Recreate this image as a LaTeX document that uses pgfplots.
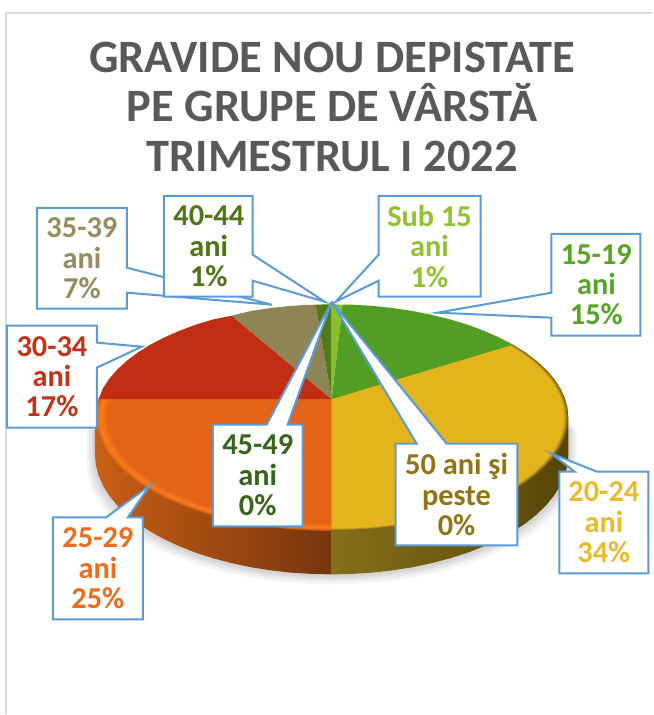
\documentclass[border=0pt]{standalone}
\usepackage{fontspec}
\setmainfont{Carlito}
\usepackage{pgfplots}
\usepackage{pgfplotstable}
\pgfplotsset{compat=1.18}
\definecolor{frame}{HTML}{D9D9D9}
\definecolor{callout}{HTML}{5B9BD5}
\definecolor{HTMLa}{HTML}{C22E14}
\definecolor{HTMLb}{HTML}{8E8456}
\definecolor{HTMLc}{HTML}{4F7C14}
\definecolor{HTMLd}{HTML}{8DBF2A}
\definecolor{HTMLe}{HTML}{529E24}
\definecolor{HTMLf}{HTML}{968C5E}
\definecolor{HTMLg}{HTML}{4F7518}
\definecolor{HTMLh}{HTML}{93C22D}
\definecolor{HTMLi}{HTML}{56A626}
\definecolor{HTMLj}{HTML}{C5321B}
\definecolor{HTMLk}{HTML}{37651C}
\definecolor{HTMLl}{HTML}{8F7514}
\definecolor{HTMLm}{HTML}{EB6D20}
\definecolor{HTMLn}{HTML}{EABB28}
\definecolor{HTMLo}{HTML}{C95F15}
\definecolor{HTMLp}{HTML}{75350D}
\definecolor{HTMLq}{HTML}{85701A}
\definecolor{HTMLr}{HTML}{554608}
\definecolor{HTMLa1}{HTML}{C05C14}
\definecolor{HTMLa2}{HTML}{D86416}
\definecolor{HTMLa3}{HTML}{EE7019}
\definecolor{HTMLa4}{HTML}{FA781C}
\definecolor{HTMLa5}{HTML}{F4721A}
\definecolor{HTMLa6}{HTML}{EC6B18}
\definecolor{HTMLv}{HTML}{E46517}
\definecolor{HTMLw}{HTML}{7A6210}
\definecolor{HTMLx}{HTML}{A88618}
\definecolor{HTMLx2}{HTML}{CBA01A}
\definecolor{HTMLy}{HTML}{E3B41B}
\definecolor{HTMLz}{HTML}{595959}
\pgfplotstableread{
x y
332 399
98.6 399.5
95.9 408.1
95 418
95.9 427.9
98.6 437.7
103.1 447.4
109.3 456.8
117.3 466
126.8 474.75
137.9 483.1
150.5 491
164.4 498.2
179.7 504.9
196 511
213.5 516.3
231.7 520.8
250.9 524.7
270.6 527.6
290.8 529.8
311.4 531
332 531.5
}\torange
\pgfplotstableread{
x y
332 399
513.5 345
526.1 352.9
537.2 361.25
546.7 370
554.7 379.2
560.9 388.6
565.4 398.3
568.1 408.1
569 418
568.1 427.9
565.4 437.7
560.9 447.4
554.7 456.8
546.7 466
537.2 474.75
526.1 483.1
513.5 491
499.6 498.2
484.3 504.9
468 511
450.5 516.3
432.3 520.8
413.1 524.7
393.4 527.6
373.2 529.8
352.6 531
332 531.5
}\tyellow
\pgfplotstableread{
x y
332 399.5
98.6 399.5
103.1 388.6
109.3 379.2
117.3 370
126.8 361.25
137.9 352.9
150.5 345
164.4 337.8
179.7 331.1
196 325
213.5 319.7
232 316
}\tred
\pgfplotstableread{
x y
332 399.5
232 316
250.9 311.3
270.6 308.4
290.8 306.2
306 305.3
316 305
}\ttan
\pgfplotstableread{
x y
332 399.5
316 305
332 304.5
}\tdark
\pgfplotstableread{
x y
332 399.5
332 304.5
343 305
}\tlight
\pgfplotstableread{
x y
332 399.5
343 305
352.6 305
373.2 306.2
393.4 308.4
413.1 311.3
432.3 315.2
450.5 319.7
468 325
484.3 331.1
499.6 337.8
513.5 345
}\tgreen
\pgfplotstableread{
x y
95 420
95 455
95.9 465.4
98.6 475.8
103.1 486.1
109.3 496
117.3 505.8
126.8 515
137.9 523.9
150.5 532.1
164.4 539.8
179.7 546.9
196 553.3
213.5 558.9
231.7 563.7
250.9 567.8
270.6 570.9
290.8 573.2
311.4 574.5
332 575
332 420
}\tsideo
\pgfplotstableread{
x y
332 420
332 575
352.6 574.5
373.2 573.2
393.4 570.9
413.1 567.8
432.3 563.7
450.5 558.9
468 553.3
484.3 546.9
499.6 539.8
513.5 532.1
526.1 523.9
537.2 515
546.7 505.8
554.7 496
560.9 486.1
565.4 475.8
568.1 465.4
569 455
569 420
}\tsidey
\pgfplotstableread{
x y
95 420
95 455
95.9 465.4
98.6 475.8
103.1 486.1
109.3 496
117.3 505.8
126.8 515
137.9 523.9
150.5 532.1
164.4 539.8
179.7 546.9
196 553.3
213.5 558.9
231.7 563.7
250.9 567.8
270.6 570.9
290.8 573.2
311.4 574.5
332 575
352.6 574.5
373.2 573.2
393.4 570.9
413.1 567.8
432.3 563.7
450.5 558.9
468 553.3
484.3 546.9
499.6 539.8
513.5 532.1
526.1 523.9
537.2 515
546.7 505.8
554.7 496
560.9 486.1
565.4 475.8
568.1 465.4
569 455
569 420
}\tshadow
\newcommand\layer[3]{\addplot[fill=#2,draw=none] table[x expr={332+(\thisrow{x}-332)*#3}, y expr={399+(\thisrow{y}-399)*#3}] {#1};}
\newcommand\shadowlayer[2]{\addplot[fill=black,fill opacity=0.045,draw=none] table[x expr={332+(\thisrow{x}-332)*#1}, y expr={\thisrow{y}+#2}] {\tshadow};}
\newcommand\callout[1]{\addplot[fill=white,draw=callout,line width=2bp,line join=miter] coordinates {#1} --cycle;}
\newcommand\lab[3]{\node[text=#2,align=center,font=\fontsize{30.5}{30.5}\selectfont\bfseries,inner sep=0pt] at (axis cs:#1) {#3};}
\begin{document}
\begin{tikzpicture}
\begin{axis}[width=653bp,height=715bp,scale only axis,xmin=0,xmax=653,ymin=0,ymax=715,y dir=reverse,hide axis,clip=false,every axis plot/.append style={no markers}]
\path (axis cs:0,0) rectangle (axis cs:653,715);
% frame
\addplot[draw=frame,line width=1.5bp] coordinates {(6,715) (6,13) (653,13)};
% shadow
\shadowlayer{1.035}{10}
\shadowlayer{1.025}{7}
\shadowlayer{1.015}{5}
\shadowlayer{1.008}{3}
% side
\addplot[draw=none,left color=HTMLo,right color=HTMLp] table {\tsideo};
\addplot[draw=none,left color=HTMLq,right color=HTMLr] table {\tsidey};
% top
\layer{\torange}{HTMLa1}{1}
\layer{\torange}{HTMLa2}{0.995}
\layer{\torange}{HTMLa3}{0.989}
\layer{\torange}{HTMLa4}{0.98}
\layer{\torange}{HTMLa5}{0.97}
\layer{\torange}{HTMLa6}{0.96}
\layer{\torange}{HTMLv}{0.95}
\layer{\tyellow}{HTMLw}{1}
\layer{\tyellow}{HTMLx}{0.994}
\layer{\tyellow}{HTMLx2}{0.988}
\layer{\tyellow}{HTMLy}{0.982}
\layer{\tred}{HTMLa}{1}
\layer{\ttan}{HTMLb}{1}
\layer{\tdark}{HTMLc}{1}
\layer{\tlight}{HTMLd}{1}
\layer{\tgreen}{HTMLe}{1}
% title
\node[text=HTMLz,align=center,font=\fontsize{46.6}{50}\selectfont\bfseries,inner sep=0pt] at (axis cs:332.5,107) {GRAVIDE NOU DEPISTATE\\PE GRUPE DE VÂRSTĂ\\TRIMESTRUL I 2022};
% callouts
\callout{(37,208) (127,208) (127,268) (272,305) (127,293) (127,309) (37,309)}
\lab{82,258.5}{HTMLf}{35-39\\ani\\7\%}
\callout{(164,196) (253,196) (253,255) (325,302) (253,281) (253,297) (164,297)}
\lab{209,246.5}{HTMLg}{40-44\\ani\\1\%}
\callout{(379,196) (481,196) (481,297) (379,297) (379,281) (336,302) (379,255)}
\lab{430,246.5}{HTMLh}{Sub 15\\ani\\1\%}
\callout{(552,234) (641,234) (641,336) (552,336) (552,318) (438,313) (552,293)}
\lab{597,285}{HTMLi}{15-19\\ani\\15\%}
\callout{(7,326) (97,326) (97,343) (142,347) (97,368) (97,428) (7,428)}
\lab{52,377}{HTMLj}{30-34\\ani\\17\%}
\callout{(213,425) (267,425) (332,302) (288,425) (303,425) (303,527) (213,527)}
\lab{258,476}{HTMLk}{45-49\\ani\\0\%}
\callout{(396,444) (417,444) (332,302) (447,444) (518,444) (518,546) (396,546)}
\lab{457,495}{HTMLl}{50 ani şi\\peste\\0\%}
\callout{(53,518) (106,518) (150,486) (128,518) (143,518) (143,620) (53,620)}
\lab{98,569}{HTMLm}{25-29\\ani\\25\%}
\callout{(560,472) (575,472) (552,454) (597,472) (649,472) (649,574) (560,574)}
\lab{604.5,523}{HTMLn}{20-24\\ani\\34\%}
\end{axis}
\end{tikzpicture}
\end{document}
